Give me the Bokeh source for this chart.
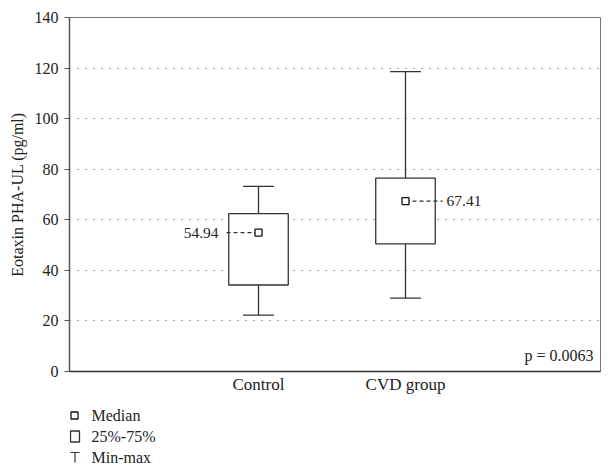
from bokeh.plotting import figure
from bokeh.models import FixedTicker, Range1d, ColumnDataSource
from bokeh.layouts import column
from bokeh.embed import file_html
from bokeh.resources import INLINE
from bokeh.core.properties import value

# ---- data ----
groups = ["Control", "CVD group"]
mins = [22.3, 29.0]
q1s = [34.2, 50.5]
medians = [54.94, 67.41]
q3s = [62.4, 76.5]
maxs = [73.2, 118.6]
y_ticks = [0, 20, 40, 60, 80, 100, 120, 140]
p_text = "p = 0.0063"
legend_labels = ["Median", "25%-75%", "Min-max"]

FONT = "Liberation Serif"
FS = "16px"
INK = "#222222"
LINE = "#333333"

xs = [i + 1 for i in range(len(groups))]

FR_L, FR_R = 69, 600
W = 603
H_MAIN = 403
H_LEG = 68

p = figure(width=W, height=H_MAIN, output_backend="svg", toolbar_location=None,
           x_range=Range1d(-0.2857, 3.3265), y_range=Range1d(0, 140),
           min_border_left=FR_L, min_border_right=W - FR_R, min_border_top=17,
           min_border_bottom=32)

p.background_fill_color = "white"
p.outline_line_color = "#777777"
p.outline_line_width = 1

# grid
p.xgrid.visible = False
p.ygrid.ticker = FixedTicker(ticks=y_ticks[1:-1])
p.ygrid.grid_line_color = "#444444"
p.ygrid.grid_line_dash = "1 7"
p.ygrid.grid_line_width = 1

# y axis
ya = p.yaxis[0]
ya.ticker = FixedTicker(ticks=y_ticks)
ya.minor_tick_line_color = None
ya.major_tick_in = 0
ya.major_tick_out = 5
ya.major_tick_line_color = "#555555"
ya.axis_line_color = "#555555"
ya.axis_line_width = 1.5
ya.major_label_standoff = 6
ya.major_label_text_font = FONT
ya.major_label_text_font_size = FS
ya.major_label_text_color = INK
ya.axis_label = "Eotaxin PHA-UL (pg/ml)"
ya.axis_label_text_font = FONT
ya.axis_label_text_font_size = FS
ya.axis_label_text_font_style = "normal"
ya.axis_label_text_color = INK
ya.axis_label_standoff = 6

# x axis
xa = p.xaxis[0]
xa.ticker = FixedTicker(ticks=xs)
xa.major_label_overrides = {x: g for x, g in zip(xs, groups)}
xa.minor_tick_line_color = None
xa.major_tick_in = 0
xa.major_tick_out = 0
xa.axis_line_color = "#333333"
xa.axis_line_width = 1.5
xa.major_label_standoff = 3
xa.major_label_text_font = FONT
xa.major_label_text_font_size = "17px"
xa.major_label_text_color = INK

src = ColumnDataSource(dict(x=xs, mn=mins, q1=q1s, med=medians, q3=q3s, mx=maxs,
                            mid=[(a + b) / 2 for a, b in zip(q1s, q3s)],
                            h=[b - a for a, b in zip(q1s, q3s)]))

BOX_W = 0.405
CAP_W = 0.21

# whiskers
p.segment(x0="x", y0="q3", x1="x", y1="mx", source=src, line_color=LINE, line_width=1.3)
p.segment(x0="x", y0="q1", x1="x", y1="mn", source=src, line_color=LINE, line_width=1.3)
# caps
caps_src = ColumnDataSource(dict(x0=[x - CAP_W / 2 for x in xs] * 2,
                                 x1=[x + CAP_W / 2 for x in xs] * 2,
                                 y=mins + maxs))
p.segment(x0="x0", y0="y", x1="x1", y1="y", source=caps_src, line_color=LINE, line_width=1.3)
# boxes
p.rect(x="x", y="mid", width=BOX_W, height="h", source=src,
       fill_color="white", line_color=LINE, line_width=1.3)

# median leaders and labels
lead_off = [-0.224, 0.252]
lab_off = [-0.272, 0.279]
aligns = ["right", "left"]
for x, m, lo, la, al in zip(xs, medians, lead_off, lab_off, aligns):
    p.segment(x0=[x], y0=[m], x1=[x + lo], y1=[m], line_color=LINE,
              line_width=1.2, line_dash="4 3")
    p.text(x=[x + la], y=[m], text=["%.2f" % m], text_font=value(FONT),
           text_font_size="15.5px", text_color=INK, text_align=al, text_baseline="middle")

# median markers
p.scatter(x="x", y="med", source=src, marker="square", size=7,
          fill_color="white", line_color="#111111", line_width=1.3)

# p-value
p.text(x=[3.279], y=[6.2], text=[p_text], text_font=value(FONT), text_font_size=FS,
       text_color=INK, text_align="right", text_baseline="middle")

# ---- legend figure (data units = page pixels) ----
leg = figure(width=W, height=H_LEG, output_backend="svg", toolbar_location=None,
             x_range=Range1d(FR_L, FR_R), y_range=Range1d(H_MAIN + H_LEG, H_MAIN),
             min_border=0, min_border_left=FR_L, min_border_right=W - FR_R,
             min_border_top=0, min_border_bottom=0)
leg.axis.visible = False
leg.grid.visible = False
leg.outline_line_color = None

ly = [415, 436, 457]
leg.scatter(x=[74], y=[ly[0]], marker="square", size=7, fill_color="white",
            line_color="#111111", line_width=1.3)
leg.rect(x=[74.5], y=[ly[1]], width=9, height=11, fill_color="white",
         line_color=LINE, line_width=1.3)
leg.segment(x0=[70, 74.5], y0=[ly[2] - 5, ly[2] - 5], x1=[79, 74.5], y1=[ly[2] - 5, ly[2] + 5],
            line_color=LINE, line_width=1.2)
leg.text(x=[91] * 3, y=ly, text=legend_labels, text_font=value(FONT), text_font_size=FS,
         text_color=INK, text_align="left", text_baseline="middle")

layout = column(p, leg, spacing=0)
open("out.html", "w").write(file_html(layout, INLINE))
